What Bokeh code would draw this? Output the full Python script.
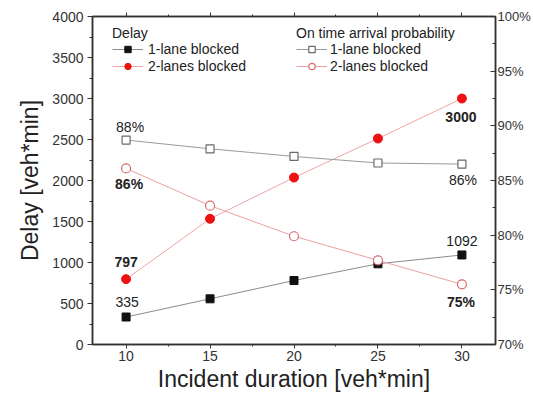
from bokeh.plotting import figure
from bokeh.models import (LinearAxis, Range1d, SingleIntervalTicker, PrintfTickFormatter,
                          CustomJSTickFormatter, Legend, LegendItem, ColumnDataSource)
from bokeh.core.properties import value
from bokeh.embed import file_html
from bokeh.resources import INLINE

# ---- data ----
duration = [10, 15, 20, 25, 30]
delay_1lane = [335, 557, 780, 984, 1092]
delay_2lane = [797, 1533, 2036, 2512, 3000]
ontime_1lane = [88.7, 87.9, 87.2, 86.6, 86.5]
ontime_2lane = [86.1, 82.7, 79.9, 77.7, 75.5]

FONT = "Liberation Sans"

p = figure(width=533, height=395, output_backend="svg", toolbar_location=None,
           x_range=Range1d(8, 32), y_range=Range1d(0, 4000),
           min_border_left=92, min_border_top=16, min_border_right=33, min_border_bottom=51,
           x_axis_label="Incident duration [veh*min]", y_axis_label="Delay [veh*min]")
p.extra_y_ranges = {"pct": Range1d(70, 100)}
p.xgrid.visible = False
p.ygrid.visible = False
p.outline_line_color = "#333333"
p.outline_line_width = 1.5
p.background_fill_color = "white"
p.border_fill_color = "white"

def style_axis(ax, interval):
    ax.ticker = SingleIntervalTicker(interval=interval, num_minor_ticks=2)
    ax.axis_line_color = "#333333"
    ax.axis_line_width = 1.5
    ax.major_tick_line_color = "#333333"
    ax.minor_tick_line_color = "#333333"
    ax.major_label_text_font = FONT
    ax.major_label_text_font_size = "14px"
    ax.major_label_text_color = "#333333"
    ax.axis_label_text_font = FONT
    ax.axis_label_text_font_style = "normal"
    ax.axis_label_text_color = "#222222"

xax = p.xaxis[0]
style_axis(xax, 5)
xax.major_tick_in = 0
xax.major_tick_out = 4
xax.minor_tick_in = 0
xax.minor_tick_out = 2
xax.major_label_standoff = 2
xax.axis_label_standoff = 2
xax.axis_label_text_font_size = "23px"

yax = p.yaxis[0]
style_axis(yax, 500)
yax.major_tick_in = 0
yax.major_tick_out = 5
yax.minor_tick_in = 0
yax.minor_tick_out = 3
yax.major_label_standoff = 4
yax.axis_label_standoff = 6
yax.axis_label_text_font_size = "23px"

rax = LinearAxis(y_range_name="pct")
style_axis(rax, 5)
rax.formatter = PrintfTickFormatter(format="%d%%")
rax.major_label_text_font_size = "13px"
rax.major_tick_in = 5
rax.major_tick_out = 0
rax.minor_tick_in = 3
rax.minor_tick_out = 0
rax.major_label_standoff = 2
rax.axis_label_standoff = 0
p.add_layout(rax, "right")

tax = LinearAxis()
style_axis(tax, 5)
tax.formatter = CustomJSTickFormatter(code="return ''")
tax.major_label_text_font_size = "0px"
tax.major_tick_in = 0
tax.major_tick_out = 4
tax.minor_tick_in = 0
tax.minor_tick_out = 2
tax.major_label_standoff = 0
tax.axis_label_standoff = 0
p.add_layout(tax, "above")

# ---- series ----
l1 = p.line(duration, delay_1lane, line_color="#8c8c8c", line_width=1)
m1 = p.scatter(duration, delay_1lane, marker="square", size=8, fill_color="#111111", line_color="#111111")
l2 = p.line(duration, delay_2lane, line_color="#f0a4a4", line_width=1)
m2 = p.scatter(duration, delay_2lane, marker="circle", size=9, fill_color="#ee1111", line_color="#ee1111")
l3 = p.line(duration, ontime_1lane, y_range_name="pct", line_color="#9a9a9a", line_width=1)
m3 = p.scatter(duration, ontime_1lane, y_range_name="pct", marker="square", size=8,
               fill_color="white", line_color="#6a6a6a", line_width=1.2)
l4 = p.line(duration, ontime_2lane, y_range_name="pct", line_color="#eaa0a0", line_width=1)
m4 = p.scatter(duration, ontime_2lane, y_range_name="pct", marker="circle", size=9,
               fill_color="white", line_color="#d86c6c", line_width=1.2)

# ---- value annotations ----
def annotate(xs, ys, texts, xoff, yoff, bold, yrange="default"):
    src = ColumnDataSource(dict(x=xs, y=ys, t=texts))
    kw = {} if yrange == "default" else {"y_range_name": yrange}
    p.text("x", "y", text="t", source=src, x_offset=xoff, y_offset=yoff,
           text_align="center", text_baseline="middle", text_font=value(FONT),
           text_font_size="14px", text_color="#222222",
           text_font_style="bold" if bold else "normal", **kw)

annotate([duration[0]], [delay_1lane[0]], [str(delay_1lane[0])], 1, -15, False)
annotate([duration[-1]], [delay_1lane[-1]], [str(delay_1lane[-1])], 0, -14, False)
annotate([duration[0]], [delay_2lane[0]], [str(delay_2lane[0])], 0, -17, True)
annotate([duration[-1]], [delay_2lane[-1]], [str(delay_2lane[-1])], -1, 18, True)
annotate([duration[0]], [ontime_1lane[0]], ["88%"], 4, -13, False, "pct")
annotate([duration[-1]], [ontime_1lane[-1]], ["86%"], 1, 16, False, "pct")
annotate([duration[0]], [ontime_2lane[0]], ["86%"], 3, 16, True, "pct")
annotate([duration[-1]], [ontime_2lane[-1]], ["75%"], -1, 18, True, "pct")

# ---- legends ----
def make_legend(title, items, loc, standoff):
    lg = Legend(items=items, title=title, location=loc, border_line_color=None,
                background_fill_alpha=0, padding=0, margin=0, spacing=1,
                label_text_font=FONT, label_text_font_size="14px", label_text_color="#222222",
                title_text_font=FONT, title_text_font_size="14px", title_text_font_style="normal",
                title_text_color="#222222", title_standoff=0,
                glyph_width=31, glyph_height=16, label_height=16, label_standoff=standoff)
    p.add_layout(lg, "center")

make_legend("Delay", [LegendItem(label="1-lane blocked", renderers=[l1, m1]),
                      LegendItem(label="2-lanes blocked", renderers=[l2, m2])], (20, 270), 5)
make_legend("On time arrival probability",
            [LegendItem(label="1-lane blocked", renderers=[l3, m3]),
             LegendItem(label="2-lanes blocked", renderers=[l4, m4])], (204, 270), 3)

open("out.html", "w").write(file_html(p, INLINE))
